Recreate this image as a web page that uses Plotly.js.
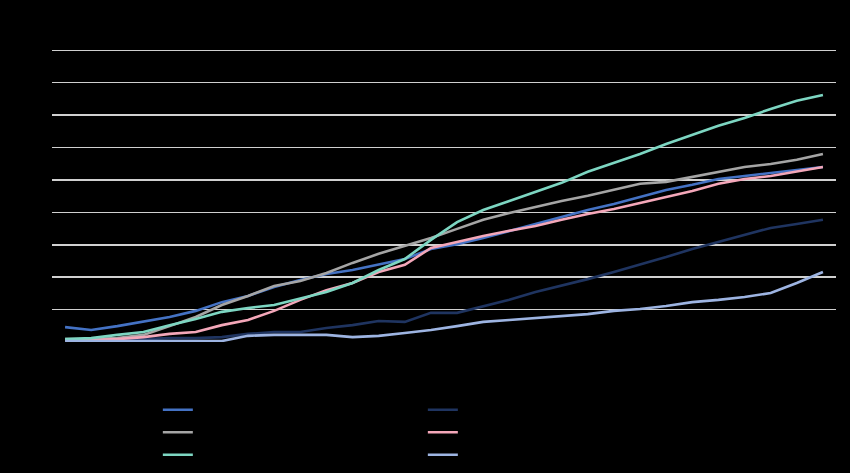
<!DOCTYPE html>
<html>
<head>
<meta charset="utf-8">
<script src="https://cdn.plot.ly/plotly-3.0.1.min.js"></script>
<style>html,body{margin:0;padding:0;background:#000;}#chart{width:850px;height:473px;}</style>
</head>
<body>
<div id="chart"></div>
<script>
var categories = ["1","2","3","4","5","6","7","8","9","10","11","12","13","14","15","16","17","18","19","20","21","22","23","24","25","26","27","28","29","30"];
var seriesNames = ["Series 1","Series 4","Series 2","Series 5","Series 3","Series 6"];
var blueValues  = [0.46,0.37,0.49,0.62,0.77,0.96,1.23,1.42,1.70,1.91,2.10,2.22,2.38,2.56,2.87,3.02,3.21,3.43,3.64,3.86,4.07,4.26,4.48,4.69,4.85,5.03,5.12,5.22,5.31,5.40];
var navyValues  = [0.06,0.06,0.06,0.09,0.12,0.12,0.15,0.25,0.31,0.31,0.43,0.52,0.65,0.62,0.90,0.90,1.11,1.30,1.54,1.73,1.94,2.16,2.38,2.62,2.87,3.09,3.30,3.52,3.64,3.77];
var grayValues  = [0.09,0.09,0.12,0.22,0.49,0.77,1.14,1.42,1.73,1.88,2.13,2.44,2.72,2.96,3.21,3.49,3.77,3.98,4.17,4.35,4.51,4.69,4.88,4.94,5.09,5.25,5.40,5.49,5.62,5.80];
var pinkValues  = [0.06,0.06,0.09,0.15,0.25,0.31,0.52,0.68,0.96,1.30,1.60,1.82,2.16,2.38,2.90,3.09,3.27,3.43,3.58,3.77,3.95,4.10,4.29,4.48,4.66,4.88,5.03,5.12,5.25,5.40];
var tealValues  = [0.09,0.12,0.22,0.31,0.52,0.71,0.93,1.05,1.14,1.33,1.54,1.82,2.22,2.56,3.15,3.70,4.07,4.35,4.63,4.91,5.25,5.52,5.80,6.11,6.39,6.67,6.91,7.19,7.44,7.62];
var lightValues = [0.03,0.03,0.03,0.03,0.03,0.03,0.03,0.19,0.22,0.22,0.22,0.15,0.19,0.28,0.37,0.49,0.62,0.68,0.74,0.80,0.86,0.96,1.02,1.11,1.23,1.30,1.39,1.51,1.82,2.16];
var gridValues = [1,2,3,4,5,6,7,8,9];

var colors = ["#4472C4","#1F3460","#A5A5A5","#F4A7B9","#7DD6C2","#9DB4E2"];
var allValues = [blueValues, navyValues, grayValues, pinkValues, tealValues, lightValues];

var traces = allValues.map(function(v, i){
  return {x: categories, y: v, type: "scatter", mode: "lines", name: seriesNames[i],
          line: {color: colors[i], width: 2.6}};
});

var layout = {
  width: 850, height: 473,
  paper_bgcolor: "#000000", plot_bgcolor: "#000000",
  margin: {l: 52, r: 14, t: 48, b: 131, autoexpand: false},
  font: {family: "Liberation Sans, Arial, sans-serif", color: "#000000", size: 13},
  showlegend: true,
  legend: {orientation: "h", x: 0.135, xanchor: "left", y: -0.175, yanchor: "top",
           entrywidth: 220, entrywidthmode: "pixels", bgcolor: "rgba(0,0,0,0)",
           font: {size: 15, color: "#000000"}, tracegroupgap: 0},
  xaxis: {type: "category", showgrid: false, zeroline: false, showline: false,
          ticks: "", showticklabels: false, range: [-0.5, 29.5]},
  yaxis: {range: [0, 9.07], tickvals: gridValues, showgrid: true, gridcolor: "#D0D0D0",
          gridwidth: 1.5, zeroline: false, showline: false, ticks: "", showticklabels: false}
};

Plotly.newPlot("chart", traces, layout, {displayModeBar: false, staticPlot: true});
</script>
</body>
</html>
